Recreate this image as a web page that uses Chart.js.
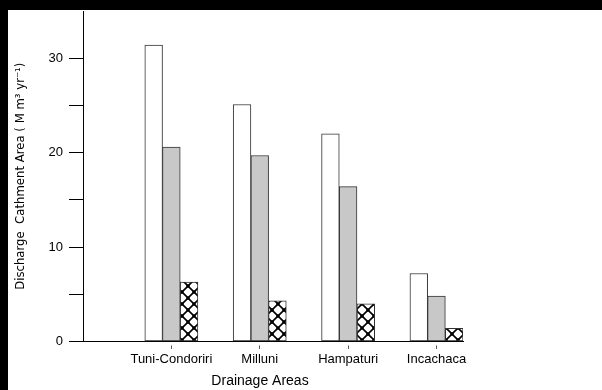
<!DOCTYPE html>
<html>
<head>
<meta charset="utf-8">
<script src="https://cdn.jsdelivr.net/npm/chart.js@4/dist/chart.umd.min.js"></script>
<style>
  html, body { margin: 0; padding: 0; background: #000; }
  body { width: 602px; height: 390px; position: relative; overflow: hidden; }
  #wrap { position: absolute; left: 8px; top: 10px; width: 594px; height: 380px; background: #fff; }
  canvas { display: block; }
</style>
</head>
<body>
<div id="wrap"><canvas id="c" width="594" height="380"></canvas></div>
<script>
// ---- data ----
const categories = ['Tuni-Condoriri', 'Milluni', 'Hampaturi', 'Incachaca'];
const seriesWhite = [31.4, 25.1, 22.0, 7.2];
const seriesGray = [20.6, 19.7, 16.4, 4.8];
const seriesHatched = [6.3, 4.3, 4.0, 1.4];
const yTickValues = [0, 5, 10, 15, 20, 25, 30];
const yLabelValues = [0, 10, 20, 30];
const xTitle = 'Drainage Areas';
const yTitle = 'Discharge  Cathment Area ( M m³ yr⁻¹)';

// hatched pattern
function makePattern() {
  const s = 12;
  const p = document.createElement('canvas');
  p.width = s; p.height = s;
  const g = p.getContext('2d');
  g.fillStyle = '#fff';
  g.fillRect(0, 0, s, s);
  g.strokeStyle = '#000';
  g.lineWidth = 1.6;
  g.beginPath();
  g.moveTo(0, 0); g.lineTo(s, s);
  g.moveTo(s, 0); g.lineTo(0, s);
  g.stroke();
  g.fillStyle = '#000';
  [[s/2, s/2], [0, 0], [s, 0], [0, s], [s, s]].forEach(([x, y]) => {
    g.beginPath(); g.arc(x, y, 1.8, 0, Math.PI * 2); g.fill();
  });
  return g.createPattern(p, 'repeat');
}
const hatchPattern = makePattern();

const toPoints = arr => arr.map((v, i) => ({ x: i + 1, y: v }));

const tickFont = { family: 'Liberation Sans, Arial, sans-serif', size: 13 };

// x-axis title drawn slightly left of the axis centre, as in the reference
const xTitlePlugin = {
  id: 'xTitlePlugin',
  afterDraw(chart) {
    const ctx = chart.ctx;
    const xs = chart.scales.x;
    ctx.save();
    ctx.font = '14px "Liberation Sans", Arial, sans-serif';
    ctx.fillStyle = '#000';
    ctx.textAlign = 'center';
    ctx.textBaseline = 'middle';
    ctx.fillText(xTitle, (xs.left + xs.right) / 2 - 13, xs.bottom - 9);
    ctx.restore();
  }
};

new Chart(document.getElementById('c'), {
  type: 'bar',
  data: {
    datasets: [
      { label: 'Series 1', data: toPoints(seriesWhite), backgroundColor: '#ffffff', borderColor: '#333', borderWidth: 1, borderSkipped: false },
      { label: 'Series 2', data: toPoints(seriesGray), backgroundColor: '#c8c8c8', borderColor: '#333', borderWidth: 1, borderSkipped: false },
      { label: 'Series 3', data: toPoints(seriesHatched), backgroundColor: hatchPattern, borderColor: '#333', borderWidth: 1, borderSkipped: false }
    ]
  },
  plugins: [xTitlePlugin],
  options: {
    responsive: false,
    animation: false,
    barThickness: 17.7,
    layout: { padding: { left: 0, top: 1, right: 139, bottom: 0 } },
    plugins: { legend: { display: false }, tooltip: { enabled: false } },
    scales: {
      x: {
        type: 'linear',
        offset: false,
        min: 0,
        max: 4.3,
        afterBuildTicks: s => { s.ticks = categories.map((c, i) => ({ value: i + 1 })); },
        afterFit: s => { s.height = 48.5; s.paddingLeft = 0; s.paddingRight = 0; },
        grid: { offset: false, drawOnChartArea: false, drawTicks: true, tickLength: 8, tickColor: '#555', tickWidth: 1, tickBorderDash: [0, 3.5, 3.5, 60] },
        border: { display: true, color: '#000', width: 1 },
        ticks: {
          autoSkip: false, maxRotation: 0, padding: 2, color: '#000', font: tickFont,
          callback: v => categories[Math.round(v) - 1] || ''
        },
        title: { display: false, text: xTitle }
      },
      y: {
        min: 0,
        max: 35,
        afterBuildTicks: s => { s.ticks = yTickValues.map(v => ({ value: v })); },
        afterFit: s => { s.width = 75; s.paddingTop = 0; s.paddingBottom = 0; },
        grid: { drawOnChartArea: false, drawTicks: true, tickLength: 14, tickColor: '#000', tickWidth: 1 },
        border: { display: true, color: '#000', width: 1 },
        ticks: {
          padding: 6, color: '#000', font: tickFont,
          callback: v => yLabelValues.includes(v) ? String(v) : ''
        },
        title: { display: true, text: yTitle, color: '#000', font: { family: 'Liberation Sans Narrow, DejaVu Sans Condensed, Arial Narrow, sans-serif', size: 13 }, padding: { top: 5, bottom: 4 } }
      }
    }
  }
});
</script>
</body>
</html>
